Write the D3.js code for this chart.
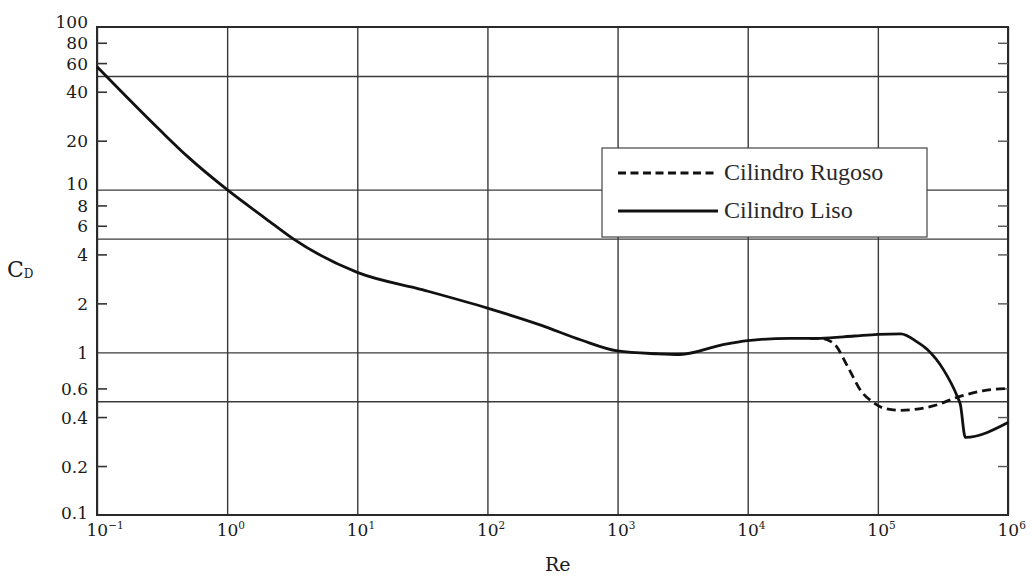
<!DOCTYPE html>
<html>
<head>
<meta charset="utf-8">
<script src="https://cdn.jsdelivr.net/npm/d3@7"></script>
<style>
  html, body { margin: 0; padding: 0; background: #fff; }
  svg { display: block; }
</style>
</head>
<body>
<svg id="chart" width="1032" height="578"></svg>
<script>
// ---- Data ----
const reSmooth = [0.1, 0.3, 0.5, 1, 2, 3.2, 10, 32, 100, 257, 525, 1000, 2000, 3000, 6600, 10000, 21000, 36000, 66000, 100000, 150000, 200000, 240000, 320000, 410000, 430000, 470000, 1000000];
const cdSmooth = [57, 23.5, 15.9, 10, 6.6, 5.0, 3.1, 2.42, 1.87, 1.47, 1.19, 1.02, 0.98, 0.97, 1.12, 1.18, 1.22, 1.22, 1.26, 1.29, 1.30, 1.16, 1.04, 0.78, 0.53, 0.48, 0.30, 0.37];

const reRough = [30000, 36000, 46000, 59000, 74000, 93000, 110000, 150000, 270000, 410000, 640000, 1000000];
const cdRough = [1.22, 1.22, 1.13, 0.81, 0.58, 0.49, 0.455, 0.44, 0.47, 0.53, 0.58, 0.60];

const xTickValues = [1e-1, 1e0, 1e1, 1e2, 1e3, 1e4, 1e5, 1e6];
const xTickExponents = ["\u22121", "0", "1", "2", "3", "4", "5", "6"];
const yTickLabels = [100, 80, 60, 40, 20, 10, 8, 6, 4, 2, 1, 0.6, 0.4, 0.2, 0.1];
const yGridValues = [50, 10, 5, 1, 0.5];
const seriesNames = ["Cilindro Rugoso", "Cilindro Liso"];

// ---- Layout ----
const svg = d3.select("#chart");
const pL = 97, pR = 1008, pT = 27, pB = 515;
const W = pR - pL, H = pB - pT;

const x = d3.scaleLog().domain([0.1, 1e6]).range([pL, pR]);
const y = d3.scaleLog().domain([0.1, 100]).range([pB, pT]);

const gridColor = "#3a3a3a";
const serif = "'DejaVu Serif', 'Liberation Serif', serif";
const ink = "#1a1a1a";

svg.append("rect").attr("width", 1032).attr("height", 578).attr("fill", "#fff");

// Vertical gridlines
const gx = svg.append("g").attr("transform", `translate(0,${pB})`)
  .call(d3.axisBottom(x).tickValues(xTickValues).tickSize(-H).tickFormat(""));
gx.select(".domain").remove();
gx.selectAll(".tick line").attr("stroke", gridColor).attr("stroke-width", 1.4);

// Horizontal gridlines
const gy = svg.append("g").attr("transform", `translate(${pL},0)`)
  .call(d3.axisLeft(y).tickValues(yGridValues).tickSize(-W).tickFormat(""));
gy.select(".domain").remove();
gy.selectAll(".tick line").attr("stroke", gridColor).attr("stroke-width", 1.4);

// Frame
svg.append("rect").attr("x", pL).attr("y", pT).attr("width", W).attr("height", H)
  .attr("fill", "none").attr("stroke", "#2a2a2a").attr("stroke-width", 2);

// Left axis: inside tick marks + labels
const minorTicks = yTickLabels.filter(v => ![100, 10, 1, 0.1].includes(v));
const yAxisL = svg.append("g").attr("transform", `translate(${pL},0)`)
  .call(d3.axisLeft(y).tickValues(yTickLabels).tickSize(-10).tickPadding(9)
    .tickFormat(d => String(d)));
yAxisL.select(".domain").remove();
yAxisL.selectAll(".tick line")
  .attr("stroke", d => minorTicks.includes(d) ? "#333" : "none")
  .attr("stroke-width", 1.6);
yAxisL.selectAll(".tick text")
  .attr("font-family", serif).attr("font-size", 17).attr("fill", ink)
  .attr("y", d => (d === 100 || d === 10) ? -6 : (d === 0.1 ? -3 : 0))
  .attr("dy", "0.36em");

// Right axis: inside tick marks only
const yAxisR = svg.append("g").attr("transform", `translate(${pR},0)`)
  .call(d3.axisRight(y).tickValues(minorTicks).tickSize(-10).tickFormat(""));
yAxisR.select(".domain").remove();
yAxisR.selectAll(".tick line").attr("stroke", "#555").attr("stroke-width", 1.4);

// Bottom axis labels (10^n)
const xAxis = svg.append("g").attr("transform", `translate(0,${pB})`)
  .call(d3.axisBottom(x).tickValues(xTickValues).tickSize(0).tickPadding(0).tickFormat(""));
xAxis.select(".domain").remove();
xAxis.selectAll(".tick").each(function(d, i) {
  const t = d3.select(this).select("text")
    .attr("text-anchor", "start").attr("x", -11).attr("y", 21).attr("dy", 0)
    .attr("font-family", serif).attr("font-size", 17).attr("fill", ink);
  t.text(null);
  t.append("tspan").text("10");
  t.append("tspan").attr("font-size", 10.5).attr("dy", -7).text(xTickExponents[i]);
});

// Axis titles
svg.append("text").attr("x", 545).attr("y", 571)
  .attr("font-family", serif).attr("font-size", 19).attr("fill", ink).text("Re");
const cd = svg.append("text").attr("x", 7).attr("y", 277)
  .attr("font-family", serif).attr("font-size", 22).attr("fill", ink);
cd.append("tspan").text("C");
cd.append("tspan").attr("font-size", 12).attr("dy", 1).text("D");

// Curves
const line = d3.line().x(d => x(d[0])).y(d => y(d[1])).curve(d3.curveMonotoneX);
const smoothPts = reSmooth.map((r, i) => [r, cdSmooth[i]]);
const roughPts = reRough.map((r, i) => [r, cdRough[i]]);

svg.append("path").datum(roughPts).attr("d", line)
  .attr("fill", "none").attr("stroke", "#111").attr("stroke-width", 2.8)
  .attr("stroke-dasharray", "9,5");
svg.append("path").datum(smoothPts).attr("d", line)
  .attr("fill", "none").attr("stroke", "#111").attr("stroke-width", 2.8)
  .attr("stroke-linejoin", "round");

// Legend
const lg = svg.append("g").attr("transform", "translate(602,148)");
lg.append("rect").attr("width", 325).attr("height", 89)
  .attr("fill", "#fff").attr("stroke", "#444").attr("stroke-width", 1.2);
const legendItems = [{name: seriesNames[0], dash: "8,4.5", yy: 25}, {name: seriesNames[1], dash: null, yy: 63}];
legendItems.forEach(it => {
  lg.append("line").attr("x1", 16).attr("x2", 116).attr("y1", it.yy).attr("y2", it.yy)
    .attr("stroke", "#111").attr("stroke-width", 3)
    .attr("stroke-dasharray", it.dash);
  lg.append("text").attr("x", 122).attr("y", it.yy + 7)
    .attr("font-family", "'Liberation Serif', 'Times New Roman', serif")
    .attr("font-size", 24).attr("fill", "#2a2a2a").text(it.name);
});
</script>
</body>
</html>
